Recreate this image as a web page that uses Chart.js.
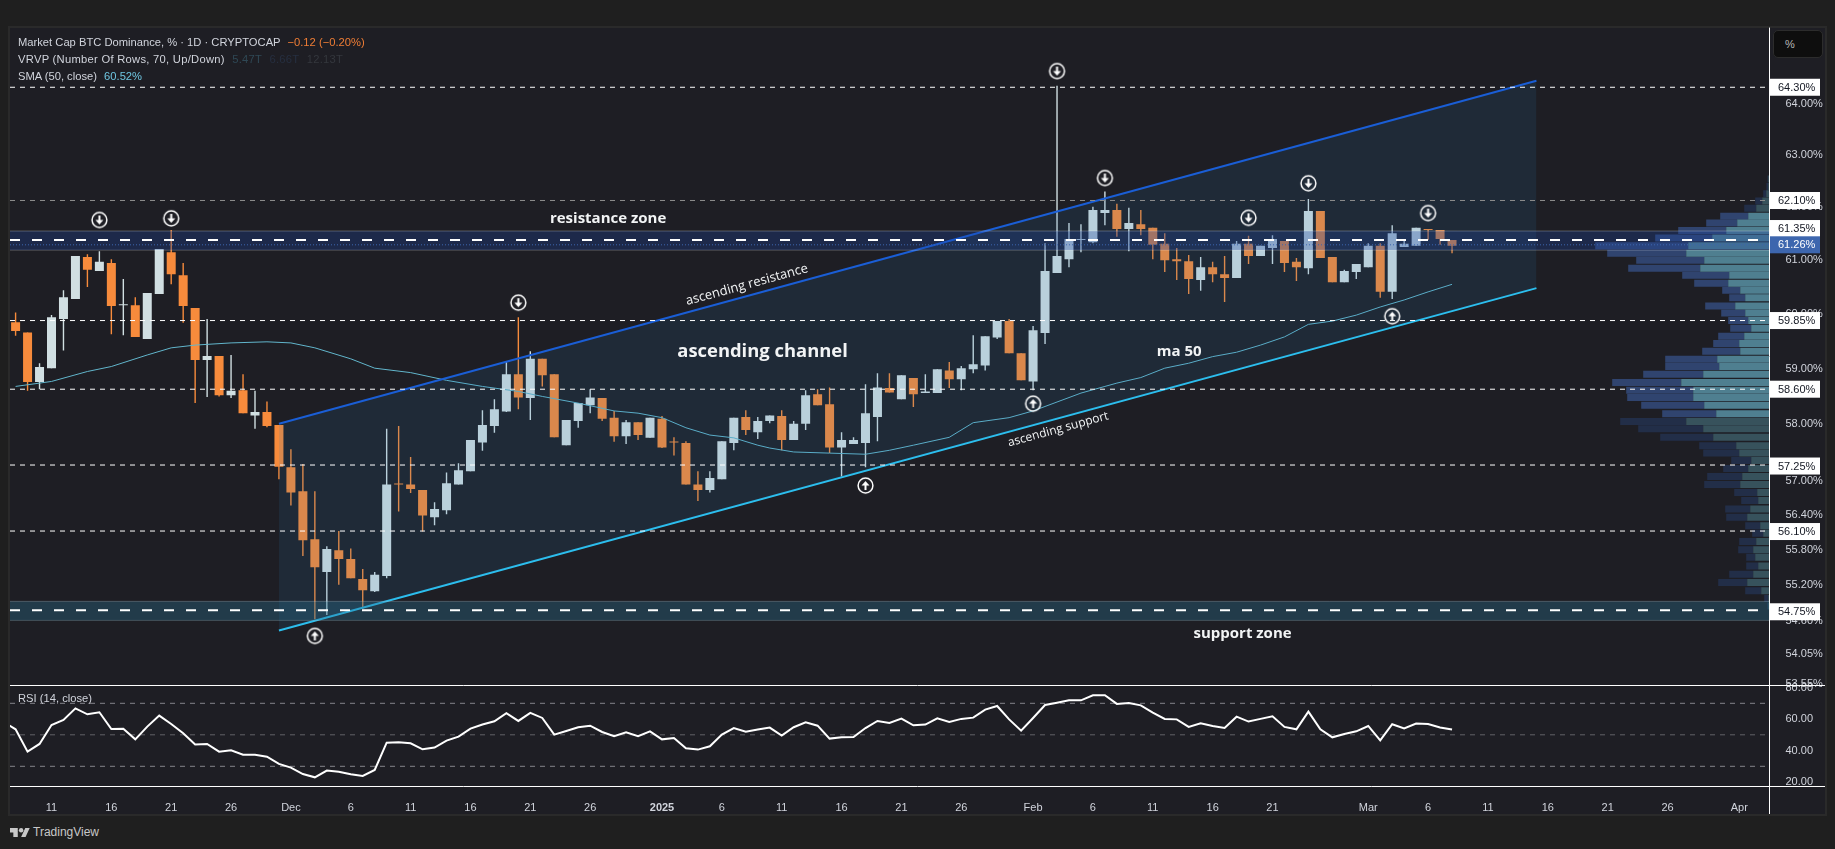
<!DOCTYPE html>
<html>
<head>
<meta charset="utf-8">
<title>Market Cap BTC Dominance</title>
<script src="https://cdn.jsdelivr.net/npm/chart.js@4/dist/chart.umd.min.js"></script>
<style>
  html, body { margin:0; padding:0; background:#1f1f1f; overflow:hidden; width:1835px; height:849px; font-family:"Liberation Sans",sans-serif; }
  #frame { position:absolute; left:8px; top:26px; width:1815px; height:786px; border:2px solid #2a2a2a; background:#1e1e24; }
  canvas { position:absolute; }
  #priceCanvas { left:10px; top:13px; }
  #rsiCanvas { left:10px; top:665px; }
  .legend { position:absolute; left:18px; font-size:11.2px; line-height:14px; color:#d1d4dc; white-space:nowrap; }
  .legend span { margin-left:4px; }
  #unitBtn { position:absolute; left:1773px; top:30px; width:48px; height:26px; background:#0e0e0e; border:1px solid #2c2c2c; border-radius:5px; color:#b8b8b8; font-size:11px; line-height:26px; text-indent:11px; }
  #logo { position:absolute; left:10px; top:825px; color:#c8c8c8; font-size:12px; line-height:14px; }
  #logo svg { position:absolute; left:0; top:2px; }
  #logo b { font-weight:normal; margin-left:23px; }
</style>
</head>
<body>
<div id="frame"></div>
<canvas id="priceCanvas" width="1815" height="687"></canvas>
<canvas id="rsiCanvas" width="1815" height="149"></canvas>
<div class="legend" style="top:35px">Market Cap BTC Dominance, % · 1D · CRYPTOCAP <span style="color:#ef7d35">−0.12 (−0.20%)</span></div>
<div class="legend" style="top:52px;letter-spacing:0.28px">VRVP (Number Of Rows, 70, Up/Down) <span style="color:#2f4855">5.47T</span> <span style="color:#262f40">6.66T</span> <span style="color:#34373d">12.13T</span></div>
<div class="legend" style="top:69px">SMA (50, close) <span style="color:#6ec5e0">60.52%</span></div>
<div class="legend" style="top:691px">RSI (14, close)</div>
<div id="unitBtn">%</div>
<div id="logo"><svg width="20" height="11" viewBox="0 5 36 18"><path fill="#c8c8c8" d="M14 6H0v8h6v8h8V6zM28 22h-8l7.5-16h8L28 22z"/><circle fill="#c8c8c8" cx="20" cy="10" r="4"/></svg><b>TradingView</b></div>

<script>
// dias contados desde el 11 de noviembre (dia 0)
const xMin = -3.467, xMax = 143.52;
const firstCandleDay = -3;
const priceMin = 53.50, priceMax = 65.49;

const candleOpen = [
  59.82,59.63,58.73,58.98,59.88,60.25,61.03,60.77,60.92,60.13,
  60.13,59.51,60.34,61.12,60.69,60.08,59.13,59.20,58.49,58.58,
  58.13,58.19,57.96,57.21,56.79,55.96,55.40,55.77,55.62,55.28,
  55.07,55.33,56.92,56.91,56.81,56.34,56.46,56.91,57.14,57.65,
  57.94,58.20,58.87,58.44,59.15,58.87,57.60,58.03,58.31,58.44,
  58.09,57.76,58.01,57.73,58.07,57.66,57.64,56.91,56.81,57.00,
  57.64,58.10,57.83,58.03,58.12,57.69,57.98,58.51,58.33,57.56,
  57.62,57.64,58.10,58.62,58.42,58.80,58.53,58.53,58.94,58.78,
  58.96,59.03,59.54,59.84,59.25,58.74,59.62,60.73,60.99,61.35,
  61.31,61.86,61.92,61.56,61.65,61.58,61.28,60.99,60.95,60.60,
  60.84,60.71,60.64,61.28,61.05,61.20,61.33,60.94,60.82,61.90,
  61.03,60.56,60.75,60.84,61.24,60.38,61.22,61.24,61.56,61.54,
  61.35];
const candleHigh = [
  60.00,59.63,59.07,59.95,60.41,61.05,61.08,61.14,60.99,60.62,
  60.28,60.36,61.18,61.54,60.92,60.08,59.88,59.20,59.22,58.87,
  58.57,58.38,57.96,57.53,57.27,56.79,55.84,56.10,55.80,55.45,
  55.40,57.89,57.94,57.39,56.81,56.60,57.12,57.28,57.69,58.22,
  58.42,59.09,59.91,59.29,59.15,58.87,58.05,58.35,58.60,58.44,
  58.21,58.05,58.01,58.09,58.12,57.74,57.67,57.14,57.14,57.67,
  58.09,58.22,58.10,58.13,58.22,58.03,58.58,58.60,58.63,57.83,
  57.74,58.69,58.89,58.89,58.85,58.80,58.87,58.96,59.09,59.02,
  59.58,59.56,59.84,59.88,59.25,59.75,61.29,64.33,61.67,61.65,
  61.98,62.27,62.04,61.96,61.92,61.58,61.48,61.20,61.07,61.03,
  60.94,61.05,61.33,61.43,61.24,61.44,61.33,61.01,62.13,61.90,
  61.03,60.79,60.90,61.29,61.29,61.63,61.37,61.58,61.56,61.54,
  61.35];
const candleLow = [
  59.57,58.57,58.60,58.98,59.30,60.25,60.47,60.77,59.60,59.58,
  59.55,59.51,60.34,60.52,59.81,58.35,58.46,58.47,58.44,58.17,
  57.89,57.92,57.00,56.54,55.67,54.60,54.67,55.18,55.29,54.78,
  55.06,55.29,56.44,56.76,56.09,56.20,56.39,56.91,57.14,57.50,
  57.82,58.19,58.24,58.05,58.65,57.74,57.60,57.91,58.17,58.03,
  57.66,57.62,57.69,57.73,57.55,57.42,56.91,56.62,56.77,57.00,
  57.51,57.78,57.71,57.99,57.51,57.69,57.87,58.31,57.46,57.05,
  57.62,57.21,57.67,58.54,58.42,58.28,58.53,58.53,58.62,58.58,
  58.89,58.94,59.51,59.25,58.76,58.58,59.42,60.73,60.84,61.12,
  61.29,61.63,61.41,61.14,61.44,60.99,60.75,60.60,60.34,60.40,
  60.56,60.19,60.64,60.90,61.05,60.90,60.75,60.58,60.71,61.01,
  60.56,60.56,60.62,60.84,60.27,60.25,61.22,61.24,61.35,61.26,
  61.10];
const candleClose = [
  59.66,58.73,59.00,59.91,60.28,61.05,60.79,60.94,60.12,60.13,
  59.55,60.36,61.18,60.71,60.12,59.13,59.20,58.49,58.57,58.17,
  58.19,57.94,57.22,56.77,55.94,55.48,55.79,55.62,55.29,55.09,
  55.35,56.91,56.91,56.83,56.37,56.48,56.93,57.16,57.69,57.96,
  58.24,58.87,58.45,59.15,58.85,57.74,58.05,58.35,58.45,58.07,
  57.76,58.01,57.78,58.09,57.56,57.65,56.91,56.81,57.02,57.67,
  58.09,57.87,58.03,58.13,57.69,57.98,58.49,58.31,57.56,57.69,
  57.69,58.17,58.63,58.54,58.85,58.51,58.56,58.96,58.78,58.98,
  59.05,59.56,59.84,59.25,58.76,59.67,60.77,61.05,61.37,61.35,
  61.92,61.92,61.56,61.67,61.56,61.26,60.97,60.95,60.62,60.84,
  60.71,60.64,61.28,61.05,61.24,61.37,60.92,60.84,61.90,61.01,
  60.56,60.77,60.90,61.24,60.38,61.48,61.28,61.58,61.54,61.37,
  61.24];

// SMA 50
const smaDays = [-3,0,3,5,8,10,12,15,18,20,22,25,27,30,33,36,39,41,44,47,49,51,53,55,57,59,60,62,65,68,70,72,75,77,80,82,84,86,88,89,91,93,95,97,99,101,103,105,107,109,111,113,115,117];
const smaValues = [58.65,58.74,58.92,59.01,59.22,59.35,59.40,59.44,59.46,59.44,59.35,59.15,58.98,58.90,58.76,58.65,58.56,58.47,58.35,58.21,58.17,58.09,57.91,57.78,57.73,57.60,57.55,57.48,57.46,57.44,57.51,57.60,57.74,58.00,58.09,58.21,58.37,58.53,58.65,58.71,58.81,58.98,59.07,59.19,59.27,59.40,59.55,59.78,59.84,59.95,60.10,60.23,60.38,60.52];

// canal ascendente
const channelDays = [19, 124.05];
const channelUpper = [57.98, 64.43];
const channelLower = [54.41, 60.45];

// niveles y zonas
const thinLevels = [64.30, 59.85, 58.60, 57.25, 56.10];
const grayLevels = [62.10];
const thickLevels = [61.35, 54.75];
const lastPrice = 61.26;
const resistanceZone = [61.52, 61.16];
const supportZone = [54.90, 54.58];

// flechas
const downArrowDays = [4, 10, 39, 84, 88, 105, 100, 115];
const downArrowPrices = [61.73, 61.76, 60.18, 64.62, 62.53, 62.43, 61.77, 61.86];
const upArrowDays = [22, 68, 82, 112];
const upArrowPrices = [54.32, 56.89, 58.34, 59.93];

// perfil de volumen (VRVP)
const volPrice = [62.51,62.37,62.23,62.09,61.95,61.80,61.67,61.53,61.39,61.24,61.10,60.97,60.82,60.69,60.54,60.41,60.27,60.12,59.99,59.85,59.71,59.56,59.43,59.29,59.14,59.01,58.87,58.72,58.58,58.45,58.31,58.16,58.02,57.89,57.74,57.59,57.46,57.33,57.19,57.05,56.91,56.77,56.63,56.48,56.34,56.19,56.06,55.92,55.78,55.65,55.50,55.36,55.22,55.08,54.95,54.82];
const volUp = [1.3,1.3,3.3,7.3,13.3,21.3,32.3,43.3,57.3,81.3,83.3,65.3,69.3,40.3,41.3,29.3,24.3,34.3,24.3,21.3,18.3,25.3,30.3,29.3,52.3,50.3,66.3,88.3,76.3,76.3,65.3,53.3,83.3,66.3,56.3,33.3,30.3,18.3,21.3,27.3,29.3,12.3,11.3,19.3,22.3,9.3,6.3,13.3,16.3,14.3,11.3,16.3,22.3,8.3,1.3,1.3];
const volDown = [0.7,1.7,3,7,12,28,31,48,57,93,79,68,72,47,34,18,16,30,24,20,21,26,26,38,52,54,60,69,67,66,63,54,66,65,53,37,36,20,25,35,36,23,17,25,21,15,11,17,15,9,12,24,29,16,4,1];
const volValueAreaTop = 5, volValueAreaBottom = 31;  // filas con color pleno
const volAxisMax = 1759.5;

// ejes
const priceTicks = [64,63,62,61,60,59,58,57,56.4,55.8,55.2,54.6,54.05,53.55];
const rsiTicks = [80,60,40,20];
const timeTickDays = [0,5,10,15,20,25,30,35,40,45,51,56,61,66,71,76,82,87,92,97,102,110,115,120,125,130,135,141];
const timeTickLabels = ["11","16","21","26","Dec","6","11","16","21","26","2025","6","11","16","21","26","Feb","6","11","16","21","Mar","6","11","16","21","26","Apr"];

// etiquetas sobre el eje de precios
const tagValues = [64.30, 62.10, 61.35, 61.26, 59.85, 58.60, 57.25, 56.10, 54.75];
const tagShift = [0, 0, -11.5, 0, 0, 0, 1, 0.5, 1.5];

// textos dibujados sobre el grafico
const noteTexts = ["resistance zone","support zone","ascending channel","ma 50","ascending resistance","ascending support"];
const noteDays = [46.5, 99.5, 59.4, 94.2, 58.1, 84.1];
const notePrices = [61.76, 54.36, 59.27, 59.27, 60.51, 57.88];
const noteFonts = ["bold 15px 'Open Sans'","bold 15px 'Open Sans'","bold 18.4px 'Open Sans'","bold 15px 'Open Sans'","13px 'Open Sans'","12px 'Open Sans'"];
const noteAngles = [0, 0, 0, 0, -15.3, -15.3];

// RSI
const firstRsiDay = -4;
const rsiValues = [
  58.2,53.5,39.3,44.2,56.2,59.4,66.8,63.0,64.3,53.7,53.9,47.1,55.2,62.2,56.9,51.0,43.8,44.2,39.3,40.2,
  37.4,37.4,36.1,31.5,29.2,25.1,23.0,27.3,26.6,24.9,23.9,27.7,45.0,45.2,44.6,40.8,41.9,46.3,48.8,53.9,
  56.5,58.6,63.7,58.8,63.9,60.7,50.1,52.4,54.8,55.8,51.8,49.1,51.6,49.1,52.2,47.1,48.0,41.4,40.6,42.7,
  50.1,54.3,52.0,53.3,54.6,49.5,54.8,57.9,55.8,47.6,48.4,48.6,54.3,58.8,57.5,60.3,56.0,56.5,60.5,58.2,
  60.1,60.9,66.0,68.3,59.8,52.6,60.7,68.9,70.4,71.9,71.9,75.1,75.1,69.6,70.2,68.7,64.1,60.1,59.8,55.0,
  57.3,55.6,54.3,61.5,58.4,60.1,61.7,55.0,53.5,64.7,53.5,48.4,50.5,52.2,55.6,46.5,56.7,54.1,57.1,56.9,
  54.6,53.3];
const rsiLevels = [70, 50, 30];

const UP = "#d1dfe2", DOWN = "#f78b3c";
Chart.defaults.font.family = "'Liberation Sans', sans-serif";
Chart.defaults.font.size = 11;
Chart.defaults.animation = false;

const lineSet = (xs, ys, extra) => Object.assign({
  type:"line", data:xs.map((x,i) => ({x, y:ys[i]})), pointRadius:0, borderWidth:1, tension:0
}, extra);
const level = (v, color, width, dash, order) =>
  lineSet([xMin, xMax], [v, v], { borderColor:color, borderWidth:width, borderDash:dash, order });

// icono de flecha en un circulo
function arrowIcon(up){
  const c = document.createElement("canvas");
  c.width = 19; c.height = 19;
  const g = c.getContext("2d");
  g.strokeStyle = "#fff"; g.fillStyle = "#fff"; g.lineWidth = 1.5;
  g.beginPath(); g.arc(9.5, 9.5, 7.4, 0, Math.PI*2); g.stroke();
  g.translate(9.5, 9.5);
  if (up) g.rotate(Math.PI);
  g.fillRect(-1, -4.5, 2, 5);
  g.beginPath(); g.moveTo(-4, 0); g.lineTo(4, 0); g.lineTo(0, 4.5); g.closePath(); g.fill();
  return c;
}

const candleDays = candleOpen.map((_, i) => firstCandleDay + i);
const candleColor = candleOpen.map((o, i) => candleClose[i] < o ? DOWN : UP);

const priceDatasets = [
  // perfil de volumen
  { type:"bar", indexAxis:"y", xAxisID:"vol", yAxisID:"y", grouped:false, barThickness:7, inflateAmount:0, order:20,
    data:volPrice.map((p,i) => ({ y:p, x:[0, volUp[i]] })),
    backgroundColor:volPrice.map((_,i) => i>=volValueAreaTop && i<=volValueAreaBottom ? "#4f7f90" : "#37525c") },
  { type:"bar", indexAxis:"y", xAxisID:"vol", yAxisID:"y", grouped:false, barThickness:7, inflateAmount:0, order:20,
    data:volPrice.map((p,i) => ({ y:p, x:[volUp[i], volUp[i]+volDown[i]] })),
    backgroundColor:volPrice.map((_,i) => i>=volValueAreaTop && i<=volValueAreaBottom ? "#30446f" : "#222e48") },
  // velas: mecha y cuerpo
  { type:"bar", grouped:false, barThickness:1.4, inflateAmount:0, minBarLength:1, order:19,
    data:candleDays.map((d,i) => ({ x:d, y:[candleLow[i], candleHigh[i]] })), backgroundColor:candleColor },
  { type:"bar", grouped:false, barThickness:9, inflateAmount:0, minBarLength:1, order:18,
    data:candleDays.map((d,i) => ({ x:d, y:[candleOpen[i], candleClose[i]] })), backgroundColor:candleColor },
  lineSet(smaDays, smaValues, { borderColor:"#62b6cc", borderWidth:1, order:17 }),
  // canal
  lineSet(channelDays, channelUpper, { borderColor:"#1a5ed6", borderWidth:2, fill:"+1", backgroundColor:"rgba(43,123,176,0.14)", order:12 }),
  lineSet(channelDays, channelLower, { borderColor:"#2dc3f2", borderWidth:2, order:12 }),
  // zonas
  lineSet([xMin,xMax], [resistanceZone[0],resistanceZone[0]], { borderColor:"rgba(255,255,255,0.25)", fill:"+1", backgroundColor:"rgba(30,70,163,0.30)", order:11 }),
  lineSet([xMin,xMax], [resistanceZone[1],resistanceZone[1]], { borderColor:"rgba(255,255,255,0.25)", order:11 }),
  lineSet([xMin,xMax], [supportZone[0],supportZone[0]], { borderColor:"rgba(255,255,255,0.2)", fill:"+1", backgroundColor:"rgba(44,116,147,0.35)", order:11 }),
  lineSet([xMin,xMax], [supportZone[1],supportZone[1]], { borderColor:"rgba(255,255,255,0.2)", order:11 }),
  // niveles
  ...thinLevels.map(v => level(v, "#ffffff", 1, [5,5], 5)),
  ...grayLevels.map(v => level(v, "#8c8c8c", 1, [5,5], 5)),
  ...thickLevels.map(v => level(v, "#ffffff", 2, [10,12], 4)),
  level(lastPrice, "#3d66ae", 1, [1,2], 6),
  // flechas
  lineSet(downArrowDays, downArrowPrices, { showLine:false, pointRadius:9, pointStyle:arrowIcon(false), order:1 }),
  lineSet(upArrowDays, upArrowPrices, { showLine:false, pointRadius:9, pointStyle:arrowIcon(true), order:1 })
];

// textos, etiquetas del eje y linea vertical del panel de precios
const priceOverlay = {
  id:"priceOverlay",
  afterDraw(chart){
    const { ctx, scales:{x, y}, chartArea } = chart;
    ctx.save();
    ctx.fillStyle = "#f2f4f5";
    ctx.textAlign = "center"; ctx.textBaseline = "middle";
    noteTexts.forEach((t,i) => {
      ctx.save();
      ctx.translate(x.getPixelForValue(noteDays[i]), y.getPixelForValue(notePrices[i]));
      ctx.rotate(noteAngles[i]*Math.PI/180);
      ctx.font = noteFonts[i];
      ctx.fillText(t, 0, 0);
      ctx.restore();
    });
    ctx.strokeStyle = "#fff"; ctx.lineWidth = 1;
    ctx.beginPath(); ctx.moveTo(y.left, chartArea.top); ctx.lineTo(y.left, chartArea.bottom); ctx.stroke();
    ctx.font = "11px 'Liberation Sans'";
    ctx.textAlign = "left";
    tagValues.forEach((v,i) => {
      const cy = y.getPixelForValue(v) + tagShift[i];
      const blue = v === lastPrice;
      ctx.fillStyle = blue ? "#3d66ae" : "#ffffff";
      ctx.fillRect(y.left + 0.5, cy - 8.5, 50, 17);
      ctx.fillStyle = blue ? "#ffffff" : "#131722";
      ctx.fillText(v.toFixed(2) + "%", y.left + 8.5, cy + 0.5);
    });
    ctx.restore();
  }
};

new Chart(document.getElementById("priceCanvas"), {
  type:"bar",
  data:{ datasets:priceDatasets },
  options:{
    responsive:false, events:[],
    layout:{ autoPadding:false },
    plugins:{ legend:{ display:false }, tooltip:{ enabled:false } },
    scales:{
      x:{ type:"linear", offset:false, min:xMin, max:xMax, display:false, grid:{ display:false } },
      vol:{ type:"linear", axis:"x", offset:false, reverse:true, min:0, max:volAxisMax, display:false, grid:{ display:false } },
      y:{
        type:"logarithmic", position:"right", offset:false, bounds:"data", beginAtZero:false, min:priceMin, max:priceMax,
        grid:{ display:false }, border:{ display:false },
        afterFit:s => { s.width = 55.5; },
        afterBuildTicks:s => { s.ticks = priceTicks.map(value => ({ value })); s.min = priceMin; s.max = priceMax; },
        ticks:{ color:"#d1d4dc", padding:8, labelOffset:1.5, autoSkip:false, callback:v => v.toFixed(2) + "%" }
      }
    }
  },
  plugins:[priceOverlay]
});

// lineas horizontales del panel RSI
const rsiOverlay = {
  id:"rsiOverlay",
  afterDraw(chart){
    const { ctx, scales:{y}, chartArea } = chart;
    ctx.save();
    ctx.strokeStyle = "#fff"; ctx.lineWidth = 1;
    ctx.beginPath();
    ctx.moveTo(0, chartArea.top + 0.5); ctx.lineTo(chart.width, chartArea.top + 0.5);
    ctx.moveTo(0, chartArea.bottom + 0.5); ctx.lineTo(chart.width, chartArea.bottom + 0.5);
    ctx.moveTo(y.left, chartArea.top); ctx.lineTo(y.left, chart.height);
    ctx.stroke();
    ctx.restore();
  }
};

new Chart(document.getElementById("rsiCanvas"), {
  type:"line",
  data:{ datasets:[
    lineSet(rsiValues.map((_,i) => firstRsiDay + i), rsiValues, { borderColor:"#ffffff", borderWidth:2, order:1 }),
    ...rsiLevels.map((v,i) => level(v, i === 1 ? "#606066" : "#84848a", 1, [5,5], 2))
  ]},
  options:{
    responsive:false, events:[],
    layout:{ autoPadding:false, padding:{ top:20 } },
    plugins:{ legend:{ display:false }, tooltip:{ enabled:false } },
    scales:{
      x:{
        type:"linear", min:xMin, max:xMax,
        grid:{ display:false }, border:{ display:false },
        afterFit:s => { s.height = 28; },
        afterBuildTicks:s => { s.ticks = timeTickDays.map(value => ({ value })); },
        ticks:{
          color:"#d1d4dc", padding:7, autoSkip:false, maxRotation:0,
          font:c => ({ weight: c.tick && c.tick.value === 51 ? "bold" : "normal" }),
          callback:v => timeTickLabels[timeTickDays.indexOf(v)]
        }
      },
      y:{
        type:"linear", position:"right", min:17.49, max:81.62,
        grid:{ display:false }, border:{ display:false },
        afterFit:s => { s.width = 55.5; },
        afterBuildTicks:s => { s.ticks = rsiTicks.map(value => ({ value })); },
        ticks:{ color:"#d1d4dc", padding:8, autoSkip:false, callback:v => v.toFixed(2) }
      }
    }
  },
  plugins:[rsiOverlay]
});
</script>
</body>
</html>
